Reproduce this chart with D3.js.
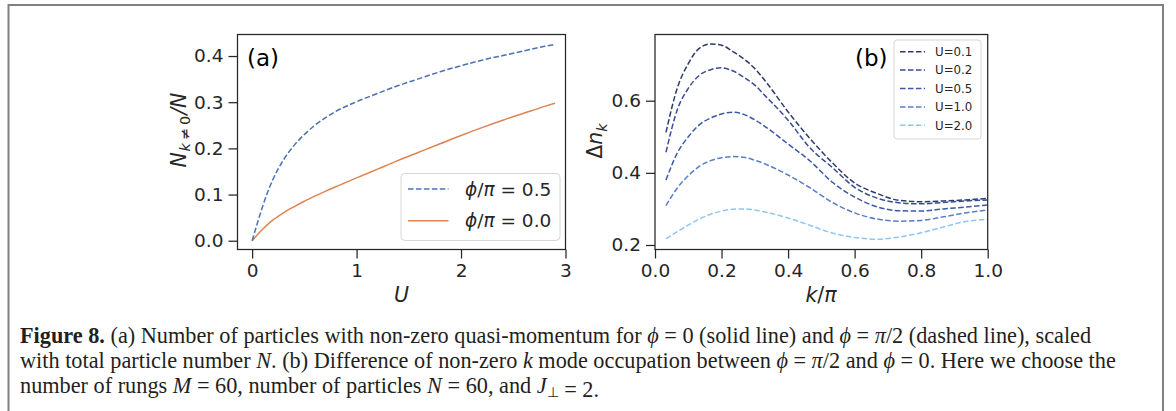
<!DOCTYPE html>
<html><head><meta charset="utf-8">
<script src="https://cdn.jsdelivr.net/npm/d3@7"></script>
<style>body{margin:0;background:#fff} svg{display:block}</style>
</head><body>
<svg id="c" width="1176" height="411"></svg>
<script>
// ---------- data ----------
// panel (a)
const uValues = [0,0.05,0.1,0.15,0.2,0.3,0.4,0.5,0.6,0.7,0.8,1.0,1.2,1.4,1.6,1.8,2.0,2.2,2.4,2.6,2.8,2.9];
const fracPhiHalf = [0,0.038,0.074,0.106,0.133,0.175,0.206,0.230,0.250,0.266,0.280,0.301,0.319,0.336,0.351,0.366,0.379,0.391,0.401,0.411,0.421,0.425];
const fracPhiZero = [0,0.013,0.025,0.0355,0.045,0.0605,0.0735,0.0855,0.0965,0.107,0.117,0.136,0.155,0.174,0.192,0.210,0.228,0.245,0.261,0.276,0.291,0.298];
const legendA = ["0.5","0.0"];
const xTicksA = [0,1,2,3];
const yTicksA = [0.0,0.1,0.2,0.3,0.4];
// panel (b)
const kOverPi = [0.033,0.067,0.1,0.133,0.167,0.2,0.233,0.267,0.3,0.333,0.4,0.467,0.533,0.6,0.667,0.733,0.8,0.867,0.933,1.0];
const dnU01 = [0.512,0.635,0.703,0.745,0.757,0.754,0.737,0.716,0.689,0.653,0.569,0.494,0.428,0.372,0.343,0.324,0.320,0.322,0.325,0.329];
const dnU02 = [0.457,0.575,0.634,0.670,0.686,0.691,0.683,0.665,0.643,0.612,0.546,0.468,0.415,0.360,0.330,0.317,0.314,0.318,0.322,0.325];
const dnU05 = [0.380,0.455,0.500,0.533,0.552,0.563,0.568,0.562,0.547,0.527,0.480,0.432,0.374,0.333,0.306,0.295,0.294,0.300,0.305,0.311];
const dnU10 = [0.309,0.358,0.392,0.418,0.434,0.442,0.445,0.443,0.435,0.424,0.394,0.358,0.318,0.289,0.272,0.266,0.268,0.278,0.289,0.297];
const dnU20 = [0.217,0.237,0.255,0.272,0.285,0.294,0.299,0.300,0.297,0.291,0.275,0.254,0.233,0.221,0.216,0.222,0.234,0.250,0.265,0.271];
const legendB = ["U=0.1","U=0.2","U=0.5","U=1.0","U=2.0"];
const xTicksB = [0.0,0.2,0.4,0.6,0.8,1.0];
const yTicksB = [0.2,0.4,0.6];

const seriesB = [dnU01,dnU02,dnU05,dnU10,dnU20];
const colorsB = ["#2f3a6b","#3a4c96","#3d58a8","#5a7ec6","#90c6f0"];
const blueA = "#4c72b0", orangeA = "#dd8452";
const ink = "#262626";
const tickFont = "DejaVu Sans, sans-serif";

const svg = d3.select("#c");

// outer frame
svg.append("rect").attr("x",8.5).attr("y",5).attr("width",1154.5).attr("height",420)
  .attr("fill","none").attr("stroke","#808080").attr("stroke-width",2);

function styleAxis(g){
  g.select(".domain").remove();
  g.selectAll(".tick line").attr("stroke",ink).attr("stroke-width",1.25);
  g.selectAll(".tick text").attr("fill",ink).style("font-family",tickFont).style("font-size","18.5px");
}

// ---------- panel (a) ----------
const A = {l:237.5, r:565.5, t:34.5, b:249.5};
const xa = d3.scaleLinear().domain([-0.14,3.0]).range([A.l,A.r]);
const ya = d3.scaleLinear().domain([-0.019,0.4466]).range([A.b,A.t]);

svg.append("g").attr("transform",`translate(0,${A.b})`)
  .call(d3.axisBottom(xa).tickValues(xTicksA).tickFormat(d3.format("d")).tickSize(9).tickPadding(5))
  .call(styleAxis);
svg.append("g").attr("transform",`translate(${A.l},0)`)
  .call(d3.axisLeft(ya).tickValues(yTicksA).tickFormat(d3.format(".1f")).tickSize(9).tickPadding(5))
  .call(styleAxis);

const lineA = d3.line().x((d,i)=>xa(uValues[i])).y(d=>ya(d)).curve(d3.curveMonotoneX);
svg.append("path").datum(fracPhiZero).attr("d",lineA).attr("fill","none")
  .attr("stroke",orangeA).attr("stroke-width",1.5);
svg.append("path").datum(fracPhiHalf).attr("d",lineA).attr("fill","none")
  .attr("stroke",blueA).attr("stroke-width",1.5).attr("stroke-dasharray","5.55,2.4");

svg.append("rect").attr("x",A.l).attr("y",A.t).attr("width",A.r-A.l).attr("height",A.b-A.t)
  .attr("fill","none").attr("stroke",ink).attr("stroke-width",1.25);

svg.append("text").attr("x",247).attr("y",65.5).text("(a)")
  .attr("fill","#000").style("font-family",tickFont).style("font-size","23px");

// legend (a)
svg.append("rect").attr("x",401).attr("y",173.5).attr("width",159).attr("height",67).attr("rx",4)
  .attr("fill","#fff").attr("fill-opacity",0.8).attr("stroke","#d6d6d6").attr("stroke-width",1);
[[blueA,"5.55,2.4"],[orangeA,null]].forEach((s,i)=>{
  const y = 189 + i*31.7;
  svg.append("line").attr("x1",408).attr("x2",448.5).attr("y1",y).attr("y2",y)
    .attr("stroke",s[0]).attr("stroke-width",1.5).attr("stroke-dasharray",s[1]);
  const t = svg.append("text").attr("x",465).attr("y",y+6.5).attr("fill",ink)
    .style("font-family",tickFont).style("font-size","18.5px");
  t.append("tspan").style("font-style","italic").text("ϕ");
  t.append("tspan").text("/");
  t.append("tspan").style("font-style","italic").text("π");
  t.append("tspan").text(" = "+legendA[i]);
});

// y label (a)
{
  const t = svg.append("text").attr("transform","translate(185.5,130) rotate(-90)")
    .attr("text-anchor","middle").attr("fill",ink)
    .style("font-family",tickFont).style("font-size","20.5px");
  t.append("tspan").style("font-style","italic").text("N");
  t.append("tspan").attr("dy",4.5).attr("dx",0.5).style("font-size","14.5px").style("font-style","italic").text("k");
  t.append("tspan").attr("dx",3).style("font-size","14.5px").text("≠");
  t.append("tspan").attr("dx",3).style("font-size","14.5px").text("0");
  t.append("tspan").attr("dy",-4.5).attr("dx",1).style("font-style","italic").text("/N");
}
svg.append("text").attr("x",401.5).attr("y",301.5).attr("text-anchor","middle").attr("fill",ink)
  .style("font-family",tickFont).style("font-size","20.5px").style("font-style","italic").text("U");

// ---------- panel (b) ----------
const B = {l:655, r:987.7, t:34.5, b:249.5};
const xb = d3.scaleLinear().domain([0,1]).range([B.l,B.r]);
const yb = d3.scaleLinear().domain([0.1875,0.7835]).range([B.b,B.t]);

svg.append("g").attr("transform",`translate(0,${B.b})`)
  .call(d3.axisBottom(xb).tickValues(xTicksB).tickFormat(d3.format(".1f")).tickSize(9).tickPadding(5))
  .call(styleAxis);
svg.append("g").attr("transform",`translate(${B.l},0)`)
  .call(d3.axisLeft(yb).tickValues(yTicksB).tickFormat(d3.format(".1f")).tickSize(9).tickPadding(5))
  .call(styleAxis);

const lineB = d3.line().x((d,i)=>xb(kOverPi[i])).y(d=>yb(d)).curve(d3.curveMonotoneX);
seriesB.forEach((s,i)=>{
  svg.append("path").datum(s).attr("d",lineB).attr("fill","none")
    .attr("stroke",colorsB[i]).attr("stroke-width",1.5).attr("stroke-dasharray","5.55,2.4");
});

svg.append("rect").attr("x",B.l).attr("y",B.t).attr("width",B.r-B.l).attr("height",B.b-B.t)
  .attr("fill","none").attr("stroke",ink).attr("stroke-width",1.25);

svg.append("text").attr("x",855).attr("y",65.5).text("(b)")
  .attr("fill","#000").style("font-family",tickFont).style("font-size","23px");

// legend (b)
svg.append("rect").attr("x",894).attr("y",40).attr("width",87).attr("height",99).attr("rx",3)
  .attr("fill","#fff").attr("fill-opacity",0.8).attr("stroke","#d6d6d6").attr("stroke-width",1);
legendB.forEach((lab,i)=>{
  const y = 51.7 + i*18.4;
  svg.append("line").attr("x1",900).attr("x2",925).attr("y1",y).attr("y2",y)
    .attr("stroke",colorsB[i]).attr("stroke-width",1.5).attr("stroke-dasharray","5.55,2.4");
  svg.append("text").attr("x",935).attr("y",y+4.3).attr("fill",ink)
    .style("font-family",tickFont).style("font-size","11.8px").text(lab);
});

// y label (b)
{
  const t = svg.append("text").attr("transform","translate(602,141) rotate(-90)")
    .attr("text-anchor","middle").attr("fill",ink)
    .style("font-family",tickFont).style("font-size","20.5px");
  t.append("tspan").text("Δ");
  t.append("tspan").style("font-style","italic").text("n");
  t.append("tspan").attr("dy",4.5).style("font-size","14.5px").style("font-style","italic").text("k");
}
{
  const t = svg.append("text").attr("x",821).attr("y",301.5).attr("text-anchor","middle").attr("fill",ink)
    .style("font-family",tickFont).style("font-size","20.5px");
  t.append("tspan").style("font-style","italic").text("k");
  t.append("tspan").text("/");
  t.append("tspan").style("font-style","italic").text("π");
}

// ---------- caption ----------
const capLines = [
  [["Figure 8.","b"],["  (a) Number of particles with non-zero quasi-momentum for ",""],["ϕ","i"],[" = 0 (solid line) and ",""],["ϕ","i"],[" = ",""],["π","i"],["/2 (dashed line), scaled",""]],
  [["with total particle number ",""],["N","i"],[". (b) Difference of non-zero ",""],["k","i"],[" mode occupation between ",""],["ϕ","i"],[" = ",""],["π","i"],["/2 and ",""],["ϕ","i"],[" = 0. Here we choose the",""]],
  [["number of rungs ",""],["M","i"],[" = 60, number of particles ",""],["N","i"],[" = 60, and ",""],["J","i"],["⊥","s"],[" = 2.",""]]
];
const capNodes = capLines.map((ln,li)=>{
  const t = svg.append("text").attr("x",20).attr("y",343+li*25).attr("fill","#231f20")
    .style("font-family","Liberation Serif, serif").style("font-size","20px");
  ln.forEach(([s,f])=>{
    const sp = t.append("tspan").text(s);
    if(f==="b") sp.style("font-weight","bold");
    if(f==="i") sp.style("font-style","italic");
    if(f==="s") sp.attr("dy",4).style("font-size","13px");
  });
  return t;
});
const len1 = capNodes[0].node().getComputedTextLength();
const fs = 20*1072/len1;
capNodes.forEach(t=>{
  t.style("font-size",fs+"px");
  t.selectAll("tspan").filter(function(){return this.style.fontSize==="13px";}).style("font-size",(fs*0.65)+"px");
});
</script>
</body></html>
